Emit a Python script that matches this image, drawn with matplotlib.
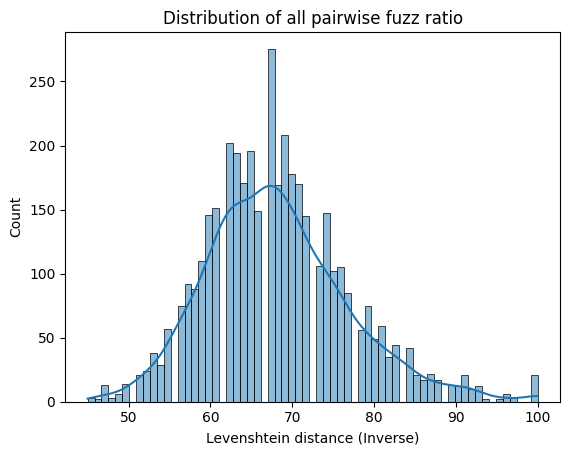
import numpy as np
import matplotlib
matplotlib.use("Agg")
import matplotlib.pyplot as plt
import seaborn as sns

# fuzz ratio values (integers) and how often each one occurs
ratios = np.arange(45, 101)
counts = [
    3, 2, 13, 3, 6, 14, 21, 24, 38, 29,          # 45-54
    57, 75, 92, 88, 110, 146, 151, 202, 194, 171,  # 55-64
    196, 149, 275, 169, 208, 178, 170, 145, 106, 147,  # 65-74
    102, 105, 85, 56, 75, 49, 59, 35, 44, 42,      # 75-84
    21, 17, 22, 17, 13, 12, 21, 10, 12, 2,         # 85-94
    2, 6, 3, 0, 0, 21,                             # 95-100
]

scores = np.repeat(ratios, counts)

fig, ax = plt.subplots(figsize=(5.71, 4.55), dpi=100)
fig.subplots_adjust(left=0.114, right=0.981, top=0.930, bottom=0.117)

sns.histplot(scores, bins=65, kde=True, ax=ax)
ax.set_title("Distribution of all pairwise fuzz ratio")
ax.set_xlabel("Levenshtein distance (Inverse)")
ax.set_ylabel("Count")

fig.savefig("out.png", dpi=100)
